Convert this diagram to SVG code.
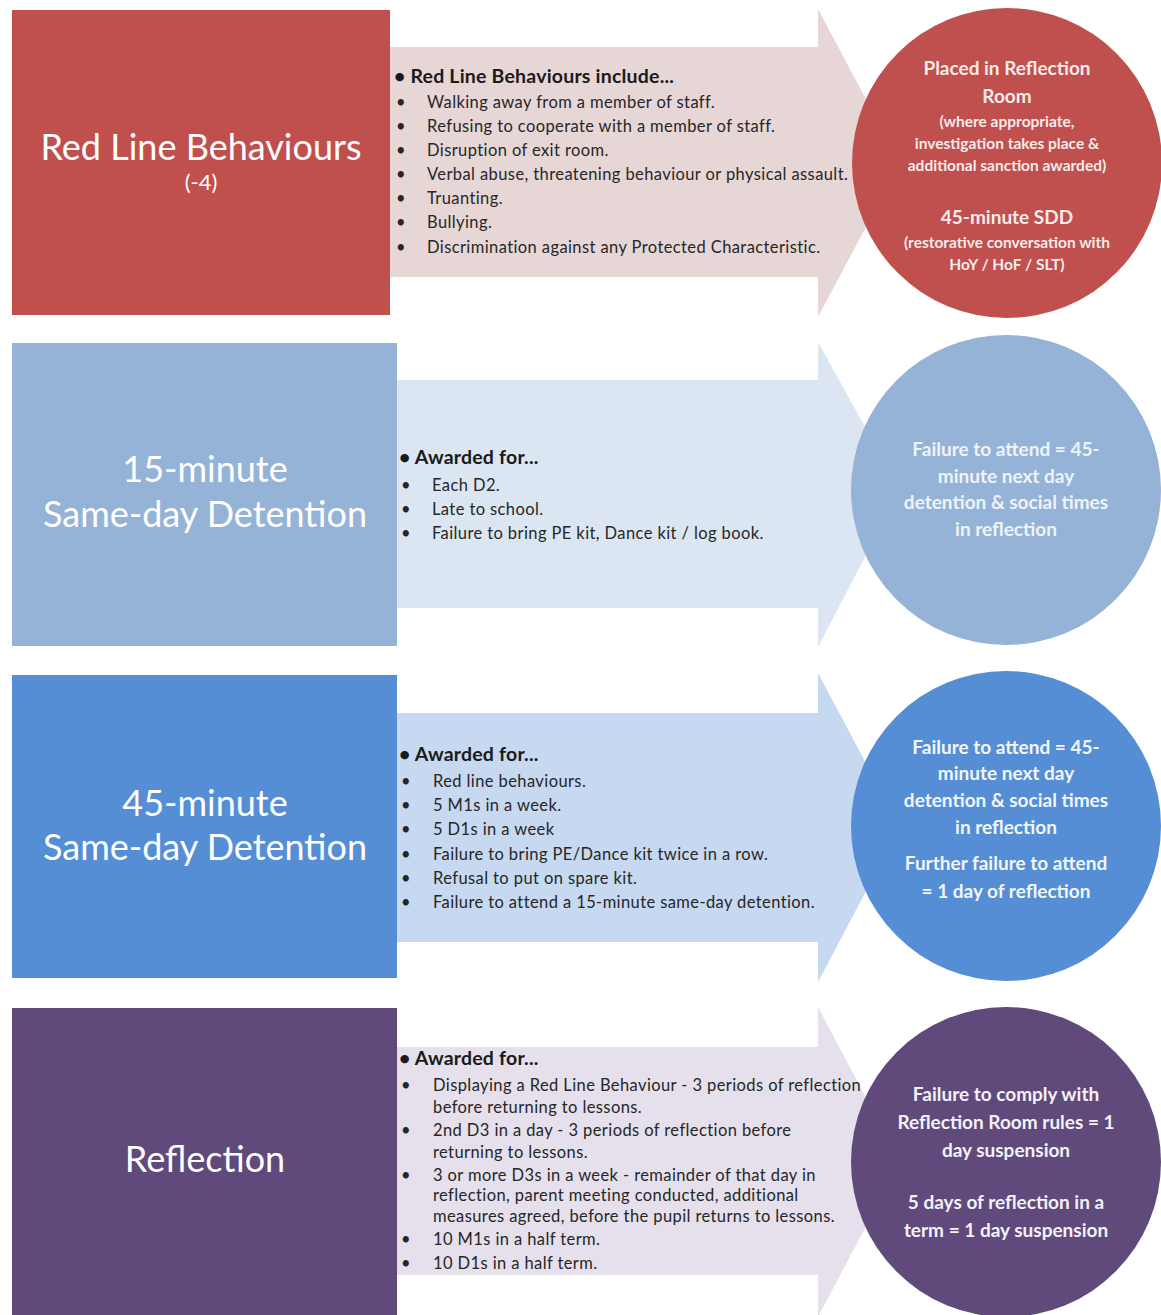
<svg xmlns="http://www.w3.org/2000/svg" width="1161" height="1315" viewBox="0 0 1161 1315">
<style>
.lbl{font-family:Lato,"Liberation Sans",sans-serif;fill:#ffffff;text-anchor:middle}
.hd{font-family:Lato,"Liberation Sans",sans-serif;font-weight:bold;font-size:19.5px;letter-spacing:0.2px;fill:#1a1a1a}
.it{font-family:Lato,"Liberation Sans",sans-serif;font-size:16.5px;letter-spacing:0.4px;fill:#262626}
.ct{font-family:Lato,"Liberation Sans",sans-serif;font-weight:bold;font-size:19px;text-anchor:middle}
.cs{font-size:15.5px}
</style>
<rect width="1161" height="1315" fill="#ffffff"/>

<!-- Row 1 -->
<g id="arrow-red">
<polygon points="390,47 818,47 818,9 900,163 818,317 818,277 390,277" fill="#E7D6D6"/>
<text class="hd" x="394" y="83">• Red Line Behaviours include...</text>
<g class="it">
<text x="396" y="108">•</text><text x="427" y="108">Walking away from a member of staff.</text>
<text x="396" y="132">•</text><text x="427" y="132">Refusing to cooperate with a member of staff.</text>
<text x="396" y="156">•</text><text x="427" y="156">Disruption of exit room.</text>
<text x="396" y="180">•</text><text x="427" y="180">Verbal abuse, threatening behaviour or physical assault.</text>
<text x="396" y="204">•</text><text x="427" y="204">Truanting.</text>
<text x="396" y="228">•</text><text x="427" y="228">Bullying.</text>
<text x="396" y="253">•</text><text x="427" y="253">Discrimination against any Protected Characteristic.</text>
</g>
</g>
<g id="node-red-line">
<rect x="12" y="10" width="378" height="305" fill="#C0504D"/>
<text class="lbl" x="201" y="160" font-size="36">Red Line Behaviours</text>
<text class="lbl" x="201" y="190" font-size="22">(-4)</text>
</g>
<g id="outcome-red">
<circle cx="1007" cy="163" r="155" fill="#C0504D"/>
<g class="ct" fill="#F7EAEA">
<text x="1007" y="75">Placed in Reflection</text>
<text x="1007" y="103">Room</text>
<text class="cs" x="1007" y="127">(where appropriate,</text>
<text class="cs" x="1007" y="149">investigation takes place &amp;</text>
<text class="cs" x="1007" y="171">additional sanction awarded)</text>
<text x="1007" y="224">45-minute SDD</text>
<text class="cs" x="1007" y="248">(restorative conversation with</text>
<text class="cs" x="1007" y="270">HoY / HoF / SLT)</text>
</g>
</g>

<!-- Row 2 -->
<g id="arrow-15">
<polygon points="397,380 818,380 818,342 900,490 818,647 818,608 397,608" fill="#DCE6F2"/>
<text class="hd" x="399" y="464">• Awarded for...</text>
<g class="it">
<text x="401" y="491">•</text><text x="432" y="491">Each D2.</text>
<text x="401" y="515">•</text><text x="432" y="515">Late to school.</text>
<text x="401" y="539">•</text><text x="432" y="539">Failure to bring PE kit, Dance kit / log book.</text>
</g>
</g>
<g id="node-15-minute">
<rect x="12" y="343" width="385" height="303" fill="#95B3D7"/>
<text class="lbl" x="205" y="482" font-size="36" fill="#EEF3FA">15-minute</text>
<text class="lbl" x="205" y="527" font-size="36">Same-day Detention</text>
</g>
<g id="outcome-15">
<circle cx="1006" cy="490" r="155" fill="#95B3D7"/>
<g class="ct" fill="#EEF3FA">
<text x="1006" y="456">Failure to attend = 45-</text>
<text x="1006" y="483">minute next day</text>
<text x="1006" y="509">detention &amp; social times</text>
<text x="1006" y="536">in reflection</text>
</g>
</g>

<!-- Row 3 -->
<g id="arrow-45">
<polygon points="397,713 818,713 818,673 900,827 818,982 818,942 397,942" fill="#C6D9F1"/>
<text class="hd" x="399" y="761">• Awarded for...</text>
<g class="it">
<text x="401" y="787">•</text><text x="433" y="787">Red line behaviours.</text>
<text x="401" y="811">•</text><text x="433" y="811">5 M1s in a week.</text>
<text x="401" y="835">•</text><text x="433" y="835">5 D1s in a week</text>
<text x="401" y="860">•</text><text x="433" y="860">Failure to bring PE/Dance kit twice in a row.</text>
<text x="401" y="884">•</text><text x="433" y="884">Refusal to put on spare kit.</text>
<text x="401" y="908">•</text><text x="433" y="908">Failure to attend a 15-minute same-day detention.</text>
</g>
</g>
<g id="node-45-minute">
<rect x="12" y="675" width="385" height="303" fill="#558ED5"/>
<text class="lbl" x="205" y="816" font-size="36">45-minute</text>
<text class="lbl" x="205" y="860" font-size="36">Same-day Detention</text>
</g>
<g id="outcome-45">
<circle cx="1006" cy="826" r="155" fill="#558ED5"/>
<g class="ct" fill="#F2F6FC">
<text x="1006" y="754">Failure to attend = 45-</text>
<text x="1006" y="780">minute next day</text>
<text x="1006" y="807">detention &amp; social times</text>
<text x="1006" y="834">in reflection</text>
<text x="1006" y="870">Further failure to attend</text>
<text x="1006" y="898">= 1 day of reflection</text>
</g>
</g>

<!-- Row 4 -->
<g id="arrow-reflection">
<polygon points="397,1047 818,1047 818,1007 900,1162 818,1317 818,1275 397,1275" fill="#E5E0EC"/>
<text class="hd" x="399" y="1065">• Awarded for...</text>
<g class="it">
<text x="401" y="1091">•</text><text x="433" y="1091">Displaying a Red Line Behaviour - 3 periods of reflection</text>
<text x="433" y="1113">before returning to lessons.</text>
<text x="401" y="1136">•</text><text x="433" y="1136">2nd D3 in a day - 3 periods of reflection before</text>
<text x="433" y="1158">returning to lessons.</text>
<text x="401" y="1181">•</text><text x="433" y="1181">3 or more D3s in a week - remainder of that day in</text>
<text x="433" y="1201">reflection, parent meeting conducted, additional</text>
<text x="433" y="1222">measures agreed, before the pupil returns to lessons.</text>
<text x="401" y="1245">•</text><text x="433" y="1245">10 M1s in a half term.</text>
<text x="401" y="1269">•</text><text x="433" y="1269">10 D1s in a half term.</text>
</g>
</g>
<g id="node-reflection">
<rect x="12" y="1008" width="385" height="307" fill="#604A7B"/>
<text class="lbl" x="205" y="1172" font-size="36">Reflection</text>
</g>
<g id="outcome-reflection">
<circle cx="1006" cy="1162" r="155" fill="#604A7B"/>
<g class="ct" fill="#F4F1F8">
<text x="1006" y="1101">Failure to comply with</text>
<text x="1006" y="1129">Reflection Room rules = 1</text>
<text x="1006" y="1157">day suspension</text>
<text x="1006" y="1209">5 days of reflection in a</text>
<text x="1006" y="1237">term = 1 day suspension</text>
</g>
</g>
<g id="connectors"/>
</svg>
